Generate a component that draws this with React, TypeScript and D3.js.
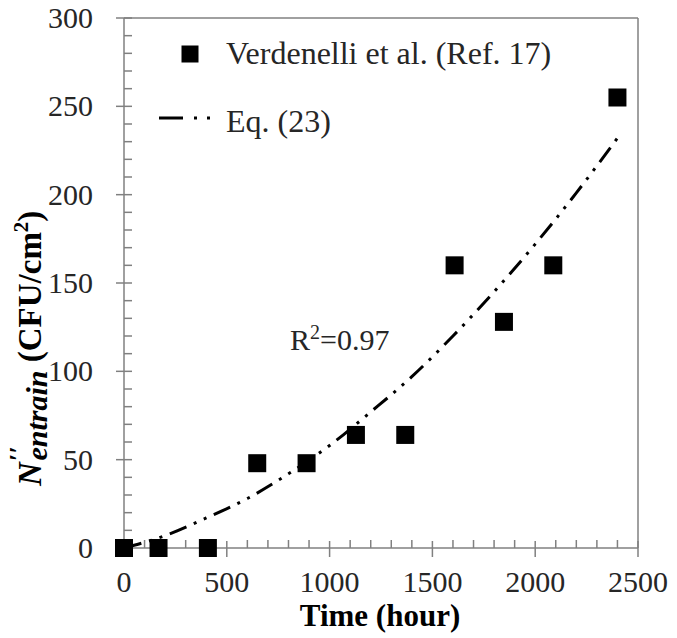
import React from 'react';
import * as d3 from 'd3';

// measured data (Verdenelli et al.)
const timeHours = [0, 168, 408, 648, 888, 1128, 1368, 1608, 1848, 2088, 2400];
const cfuMeasured = [0, 0, 0, 48, 48, 64, 64, 160, 128, 160, 255];

// Eq. (23) curve
const eqTime = [0, 200, 400, 600, 800, 1000, 1200, 1400, 1600, 1800, 2000, 2200, 2400];
const eqCfu = [0, 7, 17, 28, 42, 58, 77, 97, 120, 145, 172, 201, 232];

const xMajor = [0, 500, 1000, 1500, 2000, 2500];
const yMajor = [0, 50, 100, 150, 200, 250, 300];

const W = 677;
const H = 638;
const FONT = '"Liberation Serif", "Times New Roman", serif';
const AXIS = '#808080';
const INK = '#262626';

const App = () => {
  const x = d3.scaleLinear().domain([0, 2500]).range([124, 638]);
  const y = d3.scaleLinear().domain([0, 300]).range([548, 18]);

  const xMinor = d3.range(0, 2501, 100).filter(v => v % 500 !== 0);
  const yMinor = d3.range(0, 301, 10).filter(v => v % 50 !== 0);

  const line = d3.line<number>()
    .x((d, i) => x(eqTime[i]))
    .y(d => y(d))
    .curve(d3.curveMonotoneX);

  const sq = 18;

  return (
    <svg width={W} height={H} style={{ position: 'absolute', left: 0, top: 0, background: '#fff' }}
      fontFamily={FONT}>
      {/* plot frame */}
      <g stroke={AXIS} strokeWidth={1.5} fill="none">
        <line x1={x(0)} x2={x(2500)} y1={y(300)} y2={y(300)} />
        <line x1={x(2500)} x2={x(2500)} y1={y(300)} y2={y(0)} />
        <line x1={x(0)} x2={x(0)} y1={y(300)} y2={y(0)} />
        <line x1={x(0)} x2={x(2500)} y1={y(0)} y2={y(0)} />
        {yMajor.map(v => (
          <line key={'ym' + v} x1={x(0) - 8} x2={x(0) + 8} y1={y(v)} y2={y(v)} />
        ))}
        {yMinor.map(v => (
          <line key={'yn' + v} x1={x(0)} x2={x(0) + 8} y1={y(v)} y2={y(v)} />
        ))}
        {xMajor.map(v => (
          <line key={'xm' + v} x1={x(v)} x2={x(v)} y1={y(0) - 7} y2={y(0) + 9} />
        ))}
        {xMinor.map(v => (
          <line key={'xn' + v} x1={x(v)} x2={x(v)} y1={y(0) - 8} y2={y(0)} />
        ))}
      </g>

      {/* tick labels */}
      <g fill={INK} fontSize={30}>
        {yMajor.map(v => (
          <text key={'yl' + v} x={93} y={y(v) + 10} textAnchor="end">{v}</text>
        ))}
        {xMajor.map(v => (
          <text key={'xl' + v} x={x(v)} y={592} textAnchor="middle">{v}</text>
        ))}
      </g>

      {/* axis titles */}
      <text x={380} y={626} textAnchor="middle" fontSize={31} fontWeight="bold" fill="#000">
        Time (hour)
      </text>
      <g transform="translate(41, 486) rotate(-90)">
        <text fontWeight="bold" fill="#000">
          <tspan fontStyle="italic" fontSize={33}>N</tspan>
          <tspan fontStyle="italic" fontSize={26} dy={-14} dx={1}>′′</tspan>
          <tspan fontStyle="italic" fontSize={30} dy={20} dx={-14}>entrain</tspan>
          <tspan fontSize={33} dy={-6}>{' (CFU/cm'}</tspan>
          <tspan fontSize={21} dy={-13}>2</tspan>
          <tspan fontSize={33} dy={13}>)</tspan>
        </text>
      </g>

      {/* Eq. (23) curve */}
      <path d={line(eqCfu) || ''} fill="none" stroke="#000" strokeWidth={3}
        strokeDasharray="18,8,3,8,3,8" />

      {/* measured points */}
      {timeHours.map((t, i) => (
        <rect key={'p' + i} x={x(t) - sq / 2} y={y(cfuMeasured[i]) - sq / 2}
          width={sq} height={sq} fill="#000" />
      ))}

      {/* R squared */}
      <text x={290} y={350} fontSize={30} fill={INK}>
        R<tspan fontSize={20} dy={-11}>2</tspan><tspan dy={11}>=0.97</tspan>
      </text>

      {/* legend */}
      <rect x={190 - 8.5} y={54 - 8.5} width={17} height={17} fill="#000" />
      <text x={226} y={64} fontSize={32} fill={INK}>Verdenelli et al. (Ref. 17)</text>
      <line x1={159} x2={214} y1={118} y2={118} stroke="#000" strokeWidth={3}
        strokeDasharray="24,11,3,10,3,20" />
      <text x={226} y={132} fontSize={32} fill={INK}>Eq. (23)</text>
    </svg>
  );
};

export default App;
